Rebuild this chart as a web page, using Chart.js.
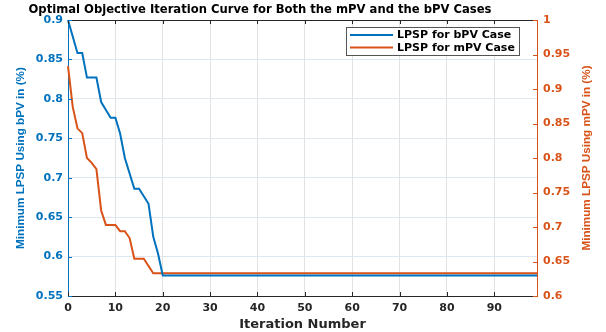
<!DOCTYPE html>
<html>
<head>
<meta charset="utf-8">
<script src="https://cdn.jsdelivr.net/npm/chart.js@4.4.1/dist/chart.umd.min.js"></script>
<style>
  html, body { margin: 0; padding: 0; background: #fff; }
  #wrap { width: 606px; height: 332px; }
</style>
</head>
<body>
<div id="wrap"><canvas id="c" width="606" height="332"></canvas></div>
<script>
// ---- Data ----
const chartTitle = 'Optimal Objective Iteration Curve for Both the mPV and the bPV Cases';
const xTitle = 'Iteration Number';
const leftTitle = 'Minimum LPSP Using bPV in (%)';
const rightTitle = 'Minimum LPSP Using mPV in (%)';
const seriesNames = ['LPSP for bPV Case', 'LPSP for mPV Case'];

// bPV series (left axis): iteration numbers at break points and values
const bIter = [0, 2, 3, 4, 6, 7, 9, 10, 11, 12, 14, 15, 17, 18, 19, 20, 99];
const bPV   = [0.900, 0.858, 0.858, 0.827, 0.827, 0.796, 0.776, 0.776, 0.756, 0.725, 0.686, 0.686, 0.667, 0.625, 0.604, 0.576, 0.576];

// mPV series (right axis)
const mIter = [0, 1, 2, 3, 4, 5, 6, 7, 8, 10, 11, 12, 13, 14, 16, 18, 99];
const mPV   = [0.933, 0.874, 0.843, 0.836, 0.800, 0.793, 0.784, 0.724, 0.703, 0.703, 0.694, 0.694, 0.684, 0.654, 0.654, 0.633, 0.633];

// Axis ranges
const xRange = [0, 99];
const leftRange = [0.55, 0.9];
const rightRange = [0.6, 1.0];

const BLUE = '#0072BD';
const ORANGE = '#D95319';
const DARK = '#262626';

const bPoints = bIter.map((x, i) => ({ x: x, y: bPV[i] }));
const mPoints = mIter.map((x, i) => ({ x: x, y: mPV[i] }));

const fmt = v => String(+Number(v).toFixed(2));

const decor = {
  id: 'decor',
  afterDraw(chart) {
    const { ctx, chartArea: a, scales } = chart;
    ctx.save();
    // top box line
    ctx.strokeStyle = DARK;
    ctx.lineWidth = 1;
    ctx.beginPath();
    ctx.moveTo(a.left, a.top + 0.5);
    ctx.lineTo(a.right, a.top + 0.5);
    ctx.stroke();
    // inner x ticks (bottom and top)
    scales.x.ticks.forEach(t => {
      const px = Math.round(scales.x.getPixelForValue(t.value)) + 0.5;
      ctx.beginPath();
      ctx.moveTo(px, a.bottom); ctx.lineTo(px, a.bottom - 4);
      ctx.moveTo(px, a.top); ctx.lineTo(px, a.top + 4);
      ctx.stroke();
    });
    // inner left ticks
    ctx.strokeStyle = BLUE;
    scales.y.ticks.forEach(t => {
      const py = Math.round(scales.y.getPixelForValue(t.value)) + 0.5;
      ctx.beginPath(); ctx.moveTo(a.left, py); ctx.lineTo(a.left + 4, py); ctx.stroke();
    });
    // inner right ticks
    ctx.strokeStyle = ORANGE;
    scales.y1.ticks.forEach(t => {
      const py = Math.round(scales.y1.getPixelForValue(t.value)) + 0.5;
      ctx.beginPath(); ctx.moveTo(a.right, py); ctx.lineTo(a.right - 4, py); ctx.stroke();
    });

    // chart title
    ctx.fillStyle = '#000';
    ctx.font = 'bold 11.6px "DejaVu Sans"';
    ctx.textAlign = 'center';
    ctx.textBaseline = 'middle';
    ctx.fillText(chartTitle, 260, 10);

    // right axis title (reads bottom to top)
    ctx.save();
    ctx.translate(587, (a.top + a.bottom) / 2);
    ctx.rotate(-Math.PI / 2);
    ctx.fillStyle = ORANGE;
    ctx.font = 'bold 11.7px "Liberation Sans"';
    ctx.textAlign = 'center';
    ctx.textBaseline = 'middle';
    ctx.fillText(rightTitle, 0, 0);
    ctx.restore();

    // legend
    const lx = 346, ly = 27, lw = 173, lh = 28;
    ctx.fillStyle = '#fff';
    ctx.fillRect(lx, ly, lw, lh);
    ctx.strokeStyle = '#555';
    ctx.lineWidth = 1;
    ctx.strokeRect(lx + 0.5, ly + 0.5, lw, lh);
    ctx.font = 'bold 11px "DejaVu Sans"';
    ctx.textAlign = 'left';
    ctx.textBaseline = 'middle';
    chart.data.datasets.forEach((ds, i) => {
      const y = ly + 8 + i * 12.5;
      ctx.strokeStyle = ds.borderColor;
      ctx.lineWidth = 2;
      ctx.beginPath(); ctx.moveTo(lx + 4, y); ctx.lineTo(lx + 47, y); ctx.stroke();
      ctx.fillStyle = '#000';
      ctx.fillText(ds.label, lx + 51, y + 0.5);
    });
    ctx.restore();
  }
};

new Chart(document.getElementById('c'), {
  type: 'line',
  data: {
    datasets: [
      { label: seriesNames[0], data: bPoints, yAxisID: 'y', borderColor: BLUE, backgroundColor: BLUE,
        borderWidth: 2, pointRadius: 0, tension: 0, clip: false },
      { label: seriesNames[1], data: mPoints, yAxisID: 'y1', borderColor: ORANGE, backgroundColor: ORANGE,
        borderWidth: 2, pointRadius: 0, tension: 0, clip: false }
    ]
  },
  options: {
    responsive: false,
    animation: false,
    layout: { padding: { top: 20, left: 0, right: 0, bottom: 0 } },
    plugins: { legend: { display: false }, title: { display: false }, tooltip: { enabled: false } },
    scales: {
      x: {
        type: 'linear', min: xRange[0], max: xRange[1],
        afterFit(s) { s.height = 36; },
        grid: { color: '#e2e2e2', drawTicks: false },
        border: { color: DARK, width: 1 },
        ticks: { stepSize: 10, includeBounds: false, padding: 6, color: DARK,
                 font: { family: 'DejaVu Sans', weight: 'bold', size: 11 }, maxRotation: 0 },
        title: { display: true, text: xTitle, color: DARK, padding: { top: 0, bottom: 0 },
                 font: { family: 'DejaVu Sans', weight: 'bold', size: 13 } }
      },
      y: {
        position: 'left', min: leftRange[0], max: leftRange[1],
        afterFit(s) { s.width = 68; },
        grid: { color: '#dfe7ee', drawTicks: false },
        border: { color: BLUE, width: 1 },
        ticks: { stepSize: 0.05, padding: 5, color: BLUE, callback: fmt,
                 font: { family: 'DejaVu Sans', weight: 'bold', size: 11 } },
        title: { display: true, text: leftTitle, color: BLUE, padding: { top: 14, bottom: 0 },
                 font: { family: 'Liberation Sans', weight: 'bold', size: 11.7 } }
      },
      y1: {
        position: 'right', min: rightRange[0], max: rightRange[1],
        afterFit(s) { s.width = 69; },
        grid: { display: false, drawTicks: false },
        border: { color: ORANGE, width: 1 },
        ticks: { stepSize: 0.05, padding: 6, color: ORANGE, callback: fmt,
                 font: { family: 'DejaVu Sans', weight: 'bold', size: 11 } },
        title: { display: false }
      }
    }
  },
  plugins: [decor]
});
</script>
</body>
</html>
